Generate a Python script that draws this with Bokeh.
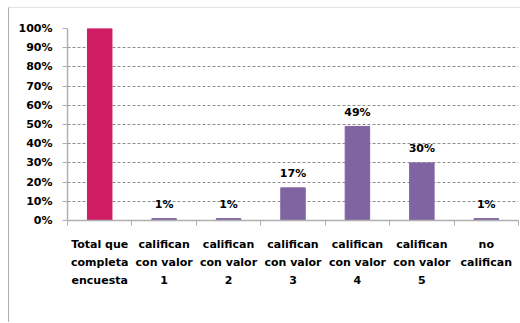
from bokeh.plotting import figure
from bokeh.models import ColumnDataSource, Range1d, FixedTicker, LabelSet, NumeralTickFormatter
from bokeh.core.properties import value
from bokeh.embed import file_html
from bokeh.resources import INLINE

categories = ["Total que\ncompleta\nencuesta", "califican\ncon valor\n1", "califican\ncon valor\n2",
              "califican\ncon valor\n3", "califican\ncon valor\n4", "califican\ncon valor\n5",
              "no\ncalifican"]
values = [1.00, 0.01, 0.01, 0.17, 0.49, 0.30, 0.01]
value_labels = ["", "1%", "1%", "17%", "49%", "30%", "1%"]
colors = ["#d01c62", "#8064a2", "#8064a2", "#8064a2", "#8064a2", "#8064a2", "#8064a2"]
y_ticks = [0, 0.1, 0.2, 0.3, 0.4, 0.5, 0.6, 0.7, 0.8, 0.9, 1.0]

xs = [i + 0.5 for i in range(len(categories))]
src = ColumnDataSource(dict(x=xs, top=values, color=colors, lab=value_labels))

FONT = "DejaVu Sans"

p = figure(width=512, height=315, output_backend="svg", toolbar_location=None,
           x_range=Range1d(0, len(categories)), y_range=Range1d(0, 1.0),
           min_border_left=58, min_border_top=20, min_border_right=3, min_border_bottom=103)
p.margin = (7, 0, 0, 8)
p.styles = {"border-left": "1px solid #b0b0b0", "border-top": "1px solid #e4e4e4"}
p.outline_line_color = None

p.vbar(x="x", top="top", width=0.38, fill_color="color", line_color="color", source=src)

p.add_layout(LabelSet(x="x", y="top", text="lab", source=src, text_align="center",
                      text_baseline="middle", y_offset=14, text_font=value(FONT),
                      text_font_style="bold", text_font_size="11px", text_color="#000000"))

# x axis
p.xaxis.ticker = FixedTicker(ticks=xs, minor_ticks=list(range(len(categories) + 1)))
p.xaxis.major_label_overrides = {x: c for x, c in zip(xs, categories)}
p.xaxis.major_tick_out = 0
p.xaxis.major_tick_in = 0
p.xaxis.minor_tick_out = 5
p.xaxis.minor_tick_in = 0
p.xaxis.minor_tick_line_color = "#b0b0b0"
p.xaxis.axis_line_color = "#b0b0b0"
p.xaxis.axis_line_width = 1.5
p.xaxis.major_label_text_font = FONT
p.xaxis.major_label_text_font_style = "bold"
p.xaxis.major_label_text_font_size = "11px"
p.xaxis.major_label_text_line_height = 1.4
p.xaxis.major_label_standoff = 12
p.xaxis.major_label_text_color = "#000000"

# y axis
p.yaxis.ticker = FixedTicker(ticks=y_ticks)
p.yaxis.formatter = NumeralTickFormatter(format="0%")
p.yaxis.minor_tick_line_color = None
p.yaxis.major_tick_out = 5
p.yaxis.major_tick_in = 0
p.yaxis.major_tick_line_color = "#b0b0b0"
p.yaxis.axis_line_color = "#b0b0b0"
p.yaxis.axis_line_width = 1.5
p.yaxis.major_label_text_font = FONT
p.yaxis.major_label_text_font_style = "bold"
p.yaxis.major_label_text_font_size = "11px"
p.yaxis.major_label_standoff = 10
p.yaxis.major_label_text_color = "#000000"

p.xgrid.grid_line_color = None
p.ygrid.ticker = FixedTicker(ticks=y_ticks[1:])
p.ygrid.grid_line_color = "#8c8c8c"
p.ygrid.grid_line_dash = "3 2"
p.ygrid.grid_line_width = 1

open("out.html", "w").write(file_html(p, INLINE))
